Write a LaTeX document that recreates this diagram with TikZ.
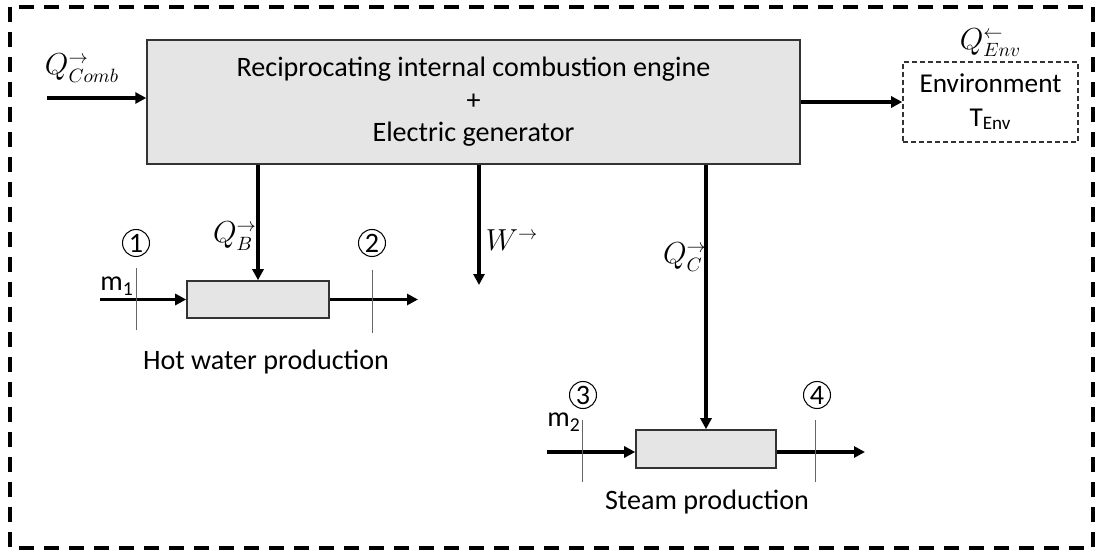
\documentclass[tikz,border=0pt]{standalone}
\usepackage{fontspec}
\setmainfont{Carlito}
\usetikzlibrary{arrows.meta,positioning,calc}
\tikzset{
  unitbox/.style={draw=black!80, fill=black!10, line width=0.9pt,
    align=center},
  envbox/.style={draw=black!80, dashed, dash pattern=on 0.1cm off 0.06cm,
    line width=0.9pt, fill=white, align=center,
    font=\fontsize{15.5}{19}\selectfont,
    minimum width=3.5cm, minimum height=1.6cm},
  flow/.style={-{Triangle[length=0.22cm, width=0.22cm]}, line width=2pt},
  cutline/.style={draw=black!60, line width=0.5pt},
  numcirc/.style={circle, draw, line width=0.6pt, minimum size=0.54cm,
    inner sep=0pt},
  mathlbl/.style={font=\fontsize{16}{19}\selectfont},
  border/.style={line width=2.2pt, dash pattern=on 0.3cm off 0.2cm},
}
\begin{document}
\begin{tikzpicture}[x=0.02cm, y=-0.02cm,
  font=\fontsize{16}{18.5}\selectfont]
  \useasboundingbox (0,0) rectangle (1100,554);
  % system boundary
  \draw[border] (10,7) rectangle (1093,548);

  % engine block
  \node[unitbox, minimum width=13.06cm, minimum height=2.48cm] (eng)
    at (473.5,102) {Reciprocating internal combustion engine\\+\\Electric generator};
  \node[envbox] (env) at (990.5,102) {Environment\\T\textsubscript{Env}};
  \node[mathlbl, above=-1pt of env] (qenv) {$Q^{\leftarrow}_{Env}$};

  % heat input
  \coordinate (cin) at (47,98);
  \draw[flow] (cin) -- (cin -| eng.west);
  \node[mathlbl] (qcomb) at (82,68) {$Q^{\rightarrow}_{Comb}$};
  \draw[flow] (eng.east |- env.west) -- (env.west);

  % hot water production
  \node[unitbox, minimum width=2.84cm, minimum height=0.74cm] (hw) at (258,299.5) {};
  \node (hwlbl) at (266,362) {Hot water production};
  \coordinate (hwin) at (100,299.5);
  \coordinate (hwout) at (418,299.5);
  \draw[flow] (hwin) -- (hw.west);
  \draw[flow] (hw.east) -- (hwout);
  \draw[flow] (eng.south -| hw.north) -- (hw.north);
  \node[mathlbl] (qb) at (235,236) {$Q^{\rightarrow}_{B}$};
  \draw[cutline] (136,268) -- (136,330);
  \draw[cutline] (372,270) -- (372,333);
  \node[numcirc] (n1) at (136,243) {1};
  \node[numcirc] (n2) at (372,243) {2};
  \node (m1) at (117,286) {m\textsubscript{1}};

  % work output
  \coordinate (wend) at (479,285);
  \draw[flow] (eng.south -| wend) -- (wend);
  \node[mathlbl] (w) at (512,240) {$W^{\rightarrow}$};

  % steam production
  \node[unitbox, minimum width=2.8cm, minimum height=0.76cm] (st) at (706,449) {};
  \node (stlbl) at (707,502) {Steam production};
  \coordinate (stin) at (547,452);
  \coordinate (stout) at (865,452);
  \draw[flow] (stin) -- (stin -| st.west);
  \draw[flow] (stout -| st.east) -- (stout);
  \draw[flow] (eng.south -| st.north) -- (st.north);
  \node[mathlbl] (qc) at (685,257) {$Q^{\rightarrow}_{C}$};
  \draw[cutline] (582,420) -- (582,482);
  \draw[cutline] (815,420) -- (815,482);
  \node[numcirc] (n3) at (583,395) {3};
  \node[numcirc] (n4) at (817,395) {4};
  \node (m2) at (564,422) {m\textsubscript{2}};
\end{tikzpicture}
\end{document}
